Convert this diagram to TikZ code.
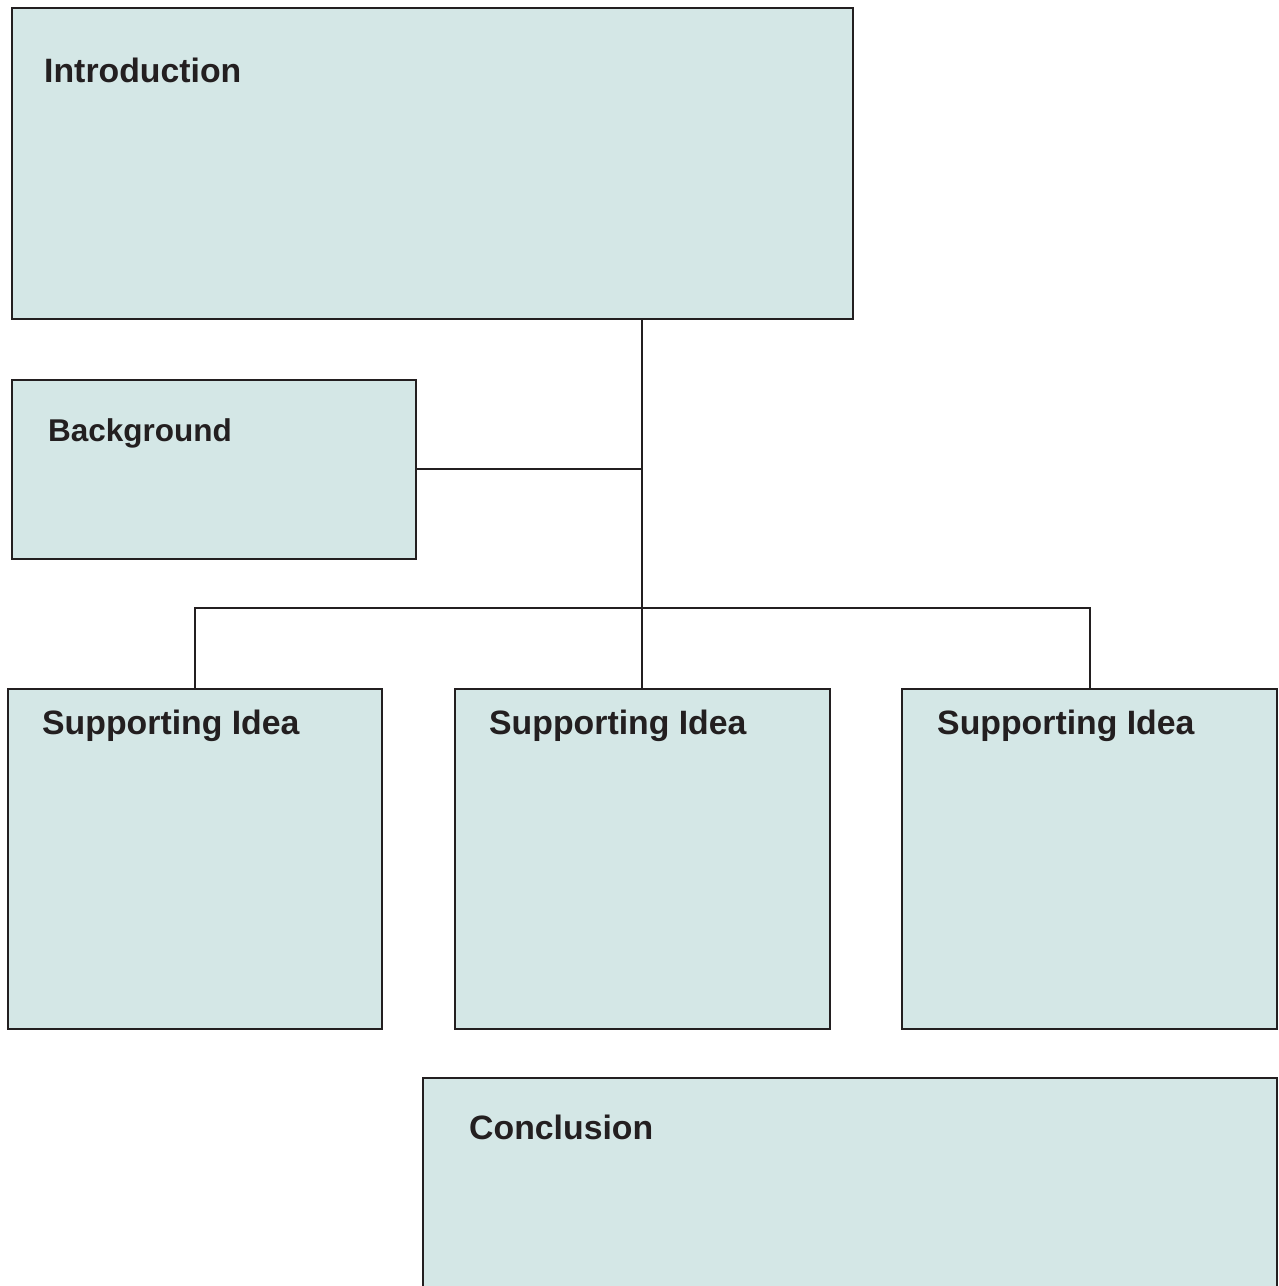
\documentclass[tikz,border=0pt]{standalone}
\usepackage{fontspec}
\setmainfont{Liberation Sans}
\definecolor{boxfill}{HTML}{D4E7E6}
\definecolor{edge}{HTML}{231F20}
\begin{document}
\begin{tikzpicture}[x=1pt,y=-1pt,
  box/.style={draw=edge,fill=boxfill,line width=2pt,anchor=north west,inner sep=0pt,outer sep=0pt},
  lbl/.style={anchor=base west,inner sep=0pt,font=\fontsize{33.8}{40}\selectfont\bfseries,text=edge},
  conn/.style={draw=edge,line width=2pt}]
\useasboundingbox (0,0) rectangle (1278,1286);
\clip (0,0) rectangle (1278,1286);
\node[box,minimum width=841pt,minimum height=311pt] (intro) at (12,8) {};
\node[box,minimum width=404pt,minimum height=179pt] (bg) at (12,380) {};
\node[box,minimum width=374pt,minimum height=340pt] (s1) at (8,689) {};
\node[box,minimum width=375pt,minimum height=340pt] (s2) at (455,689) {};
\node[box,minimum width=375pt,minimum height=340pt] (s3) at (902,689) {};
\node[box,minimum width=854pt,minimum height=260pt] (concl) at (423,1078) {};
\node[lbl] (tintro) at (44,82) {Introduction};
\node[lbl,font=\fontsize{31.5}{38}\selectfont\bfseries] (tbg) at (48,441) {Background};
\node[lbl] (ts1) at (42,734) {Supporting Idea};
\node[lbl] (ts2) at (489,734) {Supporting Idea};
\node[lbl] (ts3) at (937,734) {Supporting Idea};
\node[lbl] (tconcl) at (469,1139) {Conclusion};
\coordinate (j1) at (642,469);
\coordinate (j2) at (642,608);
\draw[conn] (intro.south -| j1) -- (j2) -- (s2.north -| j2);
\draw[conn] (bg.east |- j1) -- (j1);
\draw[conn] (s1.north) |- (j2) -| (s3.north);
\end{tikzpicture}
\end{document}
